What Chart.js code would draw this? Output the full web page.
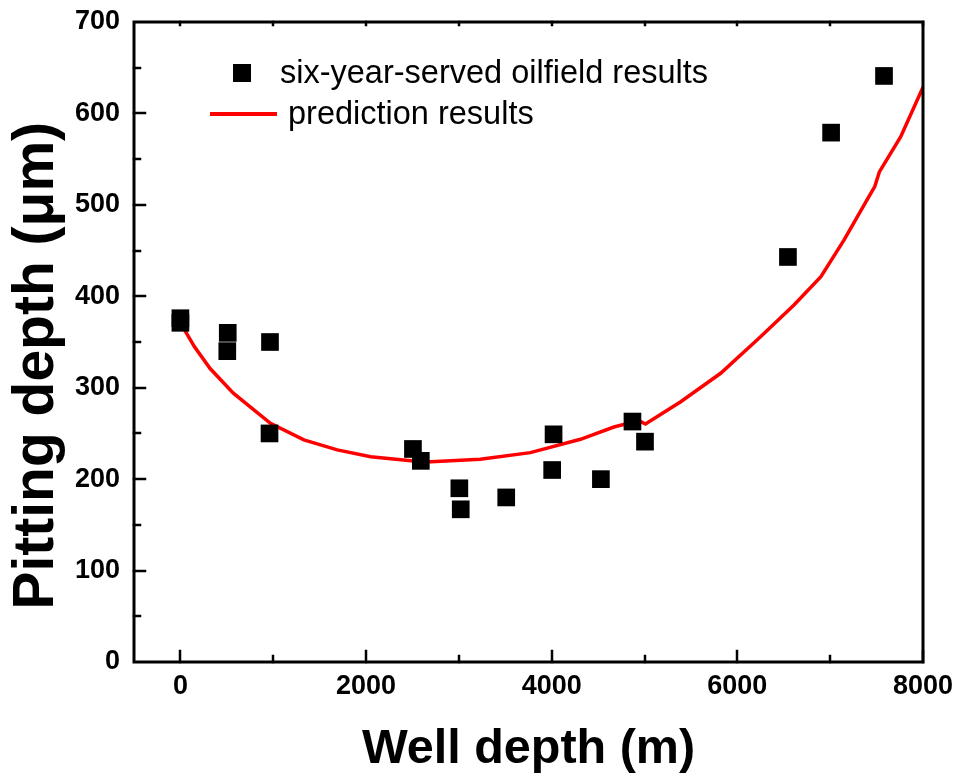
<!DOCTYPE html>
<html>
<head>
<meta charset="utf-8">
<script src="https://cdn.jsdelivr.net/npm/chart.js@4/dist/chart.umd.min.js"></script>
<style>
html,body{margin:0;padding:0;background:#fff;}
#wrap{width:958px;height:780px;position:relative;}
</style>
</head>
<body>
<div id="wrap"><canvas id="c" width="958" height="780"></canvas></div>
<script>
// ---- data ----
const fieldDepth = [0, 0, 510, 505, 965, 960, 2505, 2590, 3005, 3020, 3510, 4020, 4005, 4530, 4870, 5005, 6545, 7010, 7580];
const fieldPitting = [376, 371, 360, 340, 350, 250, 233, 220, 190, 167, 180, 249, 210, 200, 263, 241, 443, 579, 641];
const predDepth = [0, 150, 320, 570, 970, 1330, 1690, 2050, 2590, 2700, 3230, 3770, 4310, 4670, 4940, 5010, 5390, 5820, 6250, 6610, 6900, 7150, 7400, 7480, 7530, 7760, 8000];
const predPitting = [371, 345, 321, 294, 261, 243, 232, 224.5, 219, 219, 221.7, 229, 243.6, 257, 264, 260.3, 284.7, 315.8, 355.8, 390.5, 421.4, 461.6, 506, 520, 536, 574.5, 628.6];
const xTicks = [0, 2000, 4000, 6000, 8000];
const yTicks = [0, 100, 200, 300, 400, 500, 600, 700];
const seriesNames = ['six-year-served oilfield results', 'prediction results'];
const xTitle = 'Well depth (m)';
const yTitle = 'Pitting depth (\u03bcm)';

const FONT = '"Liberation Sans", Arial, Helvetica, sans-serif';

const framePlugin = {
  id: 'frame',
  afterDraw(chart) {
    const {ctx, chartArea: a, scales: {x, y}} = chart;
    ctx.save();
    ctx.strokeStyle = '#000';
    ctx.lineCap = 'square';
    ctx.lineWidth = 2.5;
    for (let v = 0; v <= 8000; v += 1000) {
      const px = Math.round(x.getPixelForValue(v));
      const len = (v % 2000 === 0) ? 11 : 6;
      ctx.beginPath(); ctx.moveTo(px, a.bottom); ctx.lineTo(px, a.bottom - len); ctx.stroke();
      ctx.beginPath(); ctx.moveTo(px, a.top); ctx.lineTo(px, a.top + 3); ctx.stroke();
    }
    for (let v = 50; v < 700; v += 50) {
      const py = Math.round(y.getPixelForValue(v));
      const len = (v % 100 === 0) ? 11 : 6;
      ctx.beginPath(); ctx.moveTo(a.left, py); ctx.lineTo(a.left + len, py); ctx.stroke();
    }
    ctx.lineWidth = 3;
    ctx.lineCap = 'butt';
    ctx.strokeRect(a.left, a.top, a.right - a.left, a.bottom - a.top);
    // legend
    ctx.fillStyle = '#000';
    ctx.fillRect(233, 64, 18, 18);
    ctx.strokeStyle = '#ff0000';
    ctx.lineWidth = 4;
    ctx.beginPath(); ctx.moveTo(210, 114); ctx.lineTo(277, 114); ctx.stroke();
    ctx.font = '32.5px ' + FONT;
    ctx.textBaseline = 'middle';
    ctx.textAlign = 'left';
    ctx.fillText(seriesNames[0], 280, 74);
    ctx.fillText(seriesNames[1], 288, 115);
    ctx.restore();
  }
};

new Chart(document.getElementById('c'), {
  data: {
    datasets: [
      {
        type: 'scatter',
        label: seriesNames[0],
        data: fieldDepth.map((d, i) => ({x: d, y: fieldPitting[i]})),
        pointStyle: 'rect',
        pointRadius: 12.5,
        pointHoverRadius: 12.5,
        backgroundColor: '#000',
        borderColor: '#000',
        borderWidth: 0,
        order: 1
      },
      {
        type: 'line',
        label: seriesNames[1],
        data: predDepth.map((d, i) => ({x: d, y: predPitting[i]})),
        borderColor: '#ff0000',
        borderWidth: 3.5,
        pointRadius: 0,
        tension: 0,
        fill: false,
        order: 2
      }
    ]
  },
  options: {
    responsive: false,
    animation: false,
    devicePixelRatio: 1,
    layout: {padding: {top: 22, right: 35, left: 0, bottom: 0}},
    plugins: {legend: {display: false}, tooltip: {enabled: false}},
    scales: {
      x: {
        type: 'linear',
        min: -500, max: 8000,
        afterBuildTicks: s => { s.ticks = xTicks.map(v => ({value: v})); },
        afterFit: s => { s.height = 118; s.paddingLeft = 0; s.paddingRight = 0; },
        grid: {display: false, drawTicks: false},
        border: {display: false},
        ticks: {color: '#000', padding: 8, maxRotation: 0, callback: v => String(v), font: {family: FONT, size: 27, weight: 'bold'}},
        title: {display: true, text: xTitle, color: '#000', padding: {top: 0, bottom: 4}, font: {family: FONT, size: 48.5, weight: 'bold', lineHeight: 1.1}}
      },
      y: {
        type: 'linear',
        min: 0, max: 700,
        afterBuildTicks: s => { s.ticks = yTicks.map(v => ({value: v})); },
        afterFit: s => { s.width = 134; s.paddingTop = 0; s.paddingBottom = 0; },
        grid: {display: false, drawTicks: false},
        border: {display: false},
        ticks: {color: '#000', padding: 14, callback: v => String(v), font: {family: FONT, size: 27, weight: 'bold'}},
        title: {display: true, text: yTitle + '   ', color: '#000', padding: {top: 6, bottom: 0}, font: {family: FONT, size: 57, weight: 'bold', lineHeight: 1.1}}
      }
    }
  },
  plugins: [framePlugin]
});
</script>
</body>
</html>
